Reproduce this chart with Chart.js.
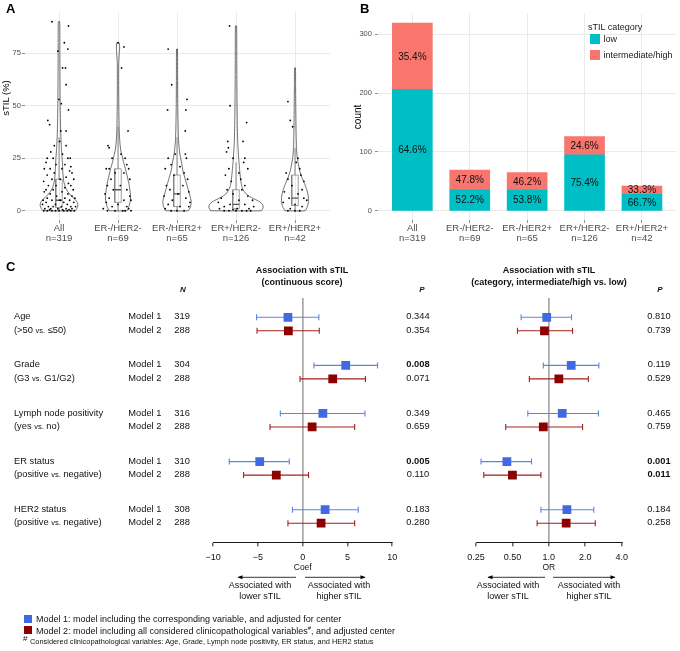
<!DOCTYPE html>
<html>
<head>
<meta charset="utf-8">
<script src="https://cdn.jsdelivr.net/npm/chart.js@4.4.1/dist/chart.umd.min.js"></script>
<style>
  body { margin: 0; background: #fff; font-family: "Liberation Sans", Arial, sans-serif; }
  #page { position: relative; width: 680px; height: 651px; overflow: hidden; }
  canvas { position: absolute; }
  .t { position: absolute; white-space: nowrap; line-height: 1; color: #111; }
  .c { transform: translate(-50%, -50%); }
  .l { transform: translate(0, -50%); }
  .sw { position: absolute; }
</style>
</head>
<body>
<div id="page">
  <canvas id="chartA" width="340" height="250" style="left:0;top:0"></canvas>
  <canvas id="chartB" width="340" height="250" style="left:340px;top:0"></canvas>
  <canvas id="forestCoef" width="205" height="283" style="left:200px;top:290px"></canvas>
  <canvas id="forestOR" width="175" height="283" style="left:460px;top:290px"></canvas>
  <svg width="680" height="651" style="position:absolute;left:0;top:0;pointer-events:none">
    <defs>
      <marker id="ah" viewBox="0 0 10 10" refX="9" refY="5" markerUnits="userSpaceOnUse" markerWidth="6" markerHeight="5" orient="auto">
        <path d="M0,1 L10,5 L0,9z" fill="#000"/>
      </marker>
    </defs>
    <line x1="296" y1="577.3" x2="238" y2="577.3" stroke="#000" stroke-width="0.8" marker-end="url(#ah)"/>
    <line x1="305" y1="577.3" x2="365" y2="577.3" stroke="#000" stroke-width="0.8" marker-end="url(#ah)"/>
    <line x1="545" y1="577.3" x2="488" y2="577.3" stroke="#000" stroke-width="0.8" marker-end="url(#ah)"/>
    <line x1="553" y1="577.3" x2="615" y2="577.3" stroke="#000" stroke-width="0.8" marker-end="url(#ah)"/>
  </svg>
</div>
<script>
// ---- data ----
const groups = ['All', 'ER-/HER2-', 'ER-/HER2+', 'ER+/HER2-', 'ER+/HER2+'];
const groupN = [319, 69, 65, 126, 42];
const lowCounts = [206, 36, 35, 95, 28];
const highCounts = [113, 33, 30, 31, 14];
const stilTicks = [0, 25, 50, 75];
const countTicks = [0, 100, 200, 300];

// violin outlines: [sTIL value, half width in category units]
const violinAll = [[0,0.27],[1,0.3],[2.5,0.32],[4,0.31],[5.5,0.27],[7,0.21],[9,0.15],[11,0.11],[14,0.08],[18,0.065],[24,0.055],[30,0.04],[38,0.028],[50,0.02],[65,0.016],[80,0.014],[90,0.012]];
const violinERnHER2n = [[0,0.15],[2,0.185],[5,0.21],[8,0.21],[12,0.19],[16,0.16],[20,0.125],[23,0.095],[26,0.07],[29,0.045],[33,0.03],[38,0.02],[48,0.014],[60,0.011],[70,0.012],[75,0.022],[77.5,0.028],[80,0.02]];
const violinERnHER2p = [[0,0.19],[2,0.23],[4.5,0.24],[7,0.22],[10,0.19],[13,0.16],[16,0.13],[19,0.1],[22.5,0.08],[26,0.055],[29,0.04],[33,0.027],[38,0.02],[50,0.013],[65,0.01],[77,0.008]];
const violinERpHER2n = [[0,0.43],[1.5,0.46],[3,0.45],[4.5,0.39],[6,0.28],[7.5,0.19],[9.5,0.13],[12,0.095],[15,0.078],[19,0.063],[25,0.045],[32,0.03],[40,0.022],[55,0.016],[70,0.013],[88,0.01]];
const violinERpHER2p = [[0,0.17],[2,0.21],[4.5,0.23],[7,0.225],[10,0.2],[13,0.16],[16,0.115],[19,0.08],[22.5,0.055],[26,0.035],[30,0.025],[38,0.018],[50,0.013],[60,0.01],[68,0.008]];
const violins = [violinAll, violinERnHER2n, violinERnHER2p, violinERpHER2n, violinERpHER2p];

// boxplot: [lower whisker, q1, median, q3, upper whisker]
const boxStats = [[0,1.5,5,15,35],[0,4,10,20,40],[0,2,8,17,35],[0,1,3,10,23],[0,2.5,6,17,30]];

// jittered observations: [offset from group centre, sTIL]
const jitterAll = [[-0.12,90],[0.16,88],[0.09,80],[0.15,77],[-0.02,76],[0.06,68],[0.11,68],[0.12,60],[0.0,53],[0.04,51],[0.16,48],[-0.19,43],[-0.16,41],[0.03,38],[0.12,38],[0.01,33],[-0.08,31],[0.12,31],[-0.14,28],[0.06,27],[-0.2,25],[-0.1,25],[0.15,25],[0.19,25],[-0.22,23],[-0.05,22],[0.1,22],[0.2,21],[-0.15,20],[-0.25,20],[0.05,20],[0.18,19],[-0.08,18],[0.22,18],[-0.2,17],[0.12,16],[-0.12,15],[0.25,15],[0.02,15],[-0.26,14],[0.16,13],[-0.05,12],[0.2,12],[-0.18,12],[0.1,11],[-0.22,10],[0.24,10],[-0.1,10],[0.05,9],[-0.25,9],[0.15,8],[-0.15,8],[0.22,7],[-0.04,7],[-0.2,6],[0.1,6],[0.27,6],[-0.27,5],[0.02,5],[0.18,5],[-0.12,5],[-0.22,4],[0.08,4],[0.25,4],[-0.06,3],[0.14,3],[-0.28,3],[0.2,2],[-0.18,2],[0.04,2],[-0.1,2],[0.28,2],[-0.24,1],[0.12,1],[-0.02,1],[0.22,1],[-0.14,1],[0.06,0.5],[-0.26,0],[-0.2,0],[-0.12,0],[-0.06,0],[0,0],[0.08,0],[0.14,0],[0.2,0],[0.26,0],[-0.16,0.5],[0.17,0.5]];
const jitterERnHER2n = [[0.0,80],[0.1,78],[0.06,68],[0.17,38],[-0.17,31],[-0.15,30],[-0.1,25],[0.05,27],[0.12,25],[0.15,22],[-0.2,20],[-0.15,20],[0.18,20],[-0.05,18],[0.1,18],[-0.12,15],[0.2,15],[-0.18,12],[0.04,12],[0.15,10],[-0.08,10],[-0.22,8],[0.2,7],[-0.15,6],[0.1,5],[0.22,5],[-0.2,4],[0.0,3],[0.15,2],[-0.1,2],[-0.25,1],[0.18,1],[0.08,0],[-0.18,0],[-0.05,0],[0.22,0],[0.12,0]];
const jitterERnHER2p = [[-0.15,77],[-0.09,60],[-0.16,48],[0.17,53],[0.15,48],[0.14,38],[-0.03,27],[-0.15,25],[0.16,25],[0.14,27],[-0.1,22],[0.05,21],[-0.2,20],[0.12,18],[-0.05,17],[0.18,15],[-0.18,12],[0.1,12],[-0.12,10],[0.2,9],[0.02,8],[-0.22,7],[0.15,6],[-0.08,5],[0.22,4],[-0.15,3],[0.05,2],[0.2,2],[-0.2,1],[0.12,0],[-0.1,0],[0.0,0]];
const jitterERpHER2n = [[-0.11,88],[-0.1,50],[0.18,42],[0.12,33],[-0.14,33],[-0.13,30],[-0.16,28],[0.15,25],[-0.05,25],[0.13,23],[-0.12,20],[0.2,20],[0.05,18],[-0.18,17],[0.08,15],[-0.08,14],[0.15,12],[-0.15,10],[0.1,10],[-0.05,8],[0.2,7],[-0.25,6],[0.05,5],[0.28,5],[-0.3,4],[0.15,3],[-0.1,3],[0.3,2],[-0.2,2],[0.02,1],[0.22,1],[-0.28,1],[-0.12,0],[0.1,0],[0.0,0],[0.18,0],[-0.2,0],[0.25,0],[-0.05,0.5]];
const jitterERpHER2p = [[-0.12,52],[-0.08,43],[-0.04,40],[0.05,25],[0.02,23],[0.08,20],[-0.15,18],[0.1,17],[-0.12,15],[0.15,14],[-0.05,12],[0.12,10],[-0.18,9],[0.05,8],[0.15,6],[-0.1,6],[0.2,5],[-0.2,4],[0.0,3],[0.12,2],[-0.08,1],[0.08,0],[0.0,0],[-0.12,0]];
const jitters = [jitterAll, jitterERnHER2n, jitterERnHER2p, jitterERpHER2n, jitterERpHER2p];

// panel C
const variables = ['Age', 'Grade', 'Lymph node positivity', 'ER status', 'HER2 status'];
const contrasts = ['(>50 vs. \u226450)', '(G3 vs. G1/G2)', '(yes vs. no)', '(positive vs. negative)', '(positive vs. negative)'];
const models = ['Model 1', 'Model 2'];
const nModel1 = [319, 304, 316, 310, 308];
const nModel2 = [288, 288, 288, 288, 288];
const coefM1 = [-1.65, 4.8, 2.25, -4.8, 2.5];
const coefM1Lo = [-5.15, 1.25, -2.5, -8.2, -1.15];
const coefM1Hi = [1.8, 8.35, 6.95, -1.5, 6.2];
const coefM2 = [-1.6, 3.35, 1.05, -2.95, 2.05];
const coefM2Lo = [-5.1, -0.3, -3.65, -6.6, -1.65];
const coefM2Hi = [1.85, 7.0, 5.8, 0.65, 5.8];
const pCoefM1 = ['0.344', '0.008', '0.349', '0.005', '0.183'];
const pCoefM2 = ['0.354', '0.071', '0.659', '0.110', '0.280'];
const orM1 = [0.96, 1.53, 1.29, 0.45, 1.41];
const orM1Lo = [0.59, 0.90, 0.67, 0.275, 0.86];
const orM1Hi = [1.54, 2.59, 2.57, 0.72, 2.35];
const orM2 = [0.92, 1.21, 0.90, 0.50, 1.39];
const orM2Lo = [0.55, 0.69, 0.44, 0.29, 0.80];
const orM2Hi = [1.57, 2.12, 1.90, 0.86, 2.42];
const pOrM1 = ['0.810', '0.119', '0.465', '0.001', '0.184'];
const pOrM2 = ['0.739', '0.529', '0.759', '0.011', '0.258'];
const coefTicks = [-10, -5, 0, 5, 10];
const orTicks = [0.25, 0.5, 1, 2, 4];
const orTickLabels = ['0.25', '0.50', '1.0', '2.0', '4.0'];

const TEAL = '#00BFC4', SALMON = '#F8766D';
const BLUE = '#4169E1', DARKRED = '#8B0000';

Chart.defaults.font.family = '"Liberation Sans", Arial, sans-serif';
Chart.defaults.animation = false;

// ---- text helper ----
const page = document.getElementById('page');
function txt(html, x, y, cls, style) {
  const d = document.createElement('div');
  d.className = 't ' + cls;
  d.style.left = x + 'px';
  d.style.top = y + 'px';
  d.style.cssText += style || '';
  d.innerHTML = html;
  page.appendChild(d);
  return d;
}

// ---- panel A: violins ----
const dsA = [];
const boxHalf = 0.055;
violins.forEach((prof, i) => {
  const c = i + 1;
  const right = prof.map(([y, w]) => ({x: c + w, y}));
  const left = prof.slice().reverse().map(([y, w]) => ({x: c - w, y}));
  dsA.push({type: 'line', data: [left[left.length - 1], ...right, ...left], borderColor: '#333', borderWidth: 0.7,
    pointRadius: 0, tension: 0.15, fill: false, order: 4});
  const [lw, q1, md, q3, uw] = boxStats[i];
  dsA.push({type: 'line', data: [{x: c, y: lw}, {x: c, y: q1}, {x: c, y: null}, {x: c, y: q3}, {x: c, y: uw}],
    borderColor: '#555', borderWidth: 0.7, pointRadius: 0, spanGaps: false, fill: false, order: 3});
  dsA.push({type: 'line', data: [{x: c - boxHalf, y: q1}, {x: c + boxHalf, y: q1}, {x: c + boxHalf, y: q3}, {x: c - boxHalf, y: q3}, {x: c - boxHalf, y: q1}],
    borderColor: '#777', borderWidth: 0.7, pointRadius: 0, tension: 0, fill: false, order: 2});
  dsA.push({type: 'line', data: [{x: c - boxHalf, y: md}, {x: c + boxHalf, y: md}],
    borderColor: '#555', borderWidth: 1.3, pointRadius: 0, fill: false, order: 1});
});
dsA.push({type: 'scatter', data: jitters.flatMap((pts, i) => pts.map(([dx, y]) => ({x: i + 1 + dx, y}))),
  pointRadius: 0.9, backgroundColor: '#000', borderWidth: 0, order: 0});

const gridGrey = '#e4e4e4';
const catTickFont = {size: 9.5, lineHeight: 1.05};
new Chart(document.getElementById('chartA'), {
  type: 'scatter',
  data: {datasets: dsA},
  options: {
    responsive: false,
    layout: {padding: {top: 12.3, right: 9.6, left: 0, bottom: 0}},
    plugins: {legend: {display: false}, tooltip: {enabled: false}},
    scales: {
      x: {
        type: 'linear', min: 0.42, max: 5.6,
        afterBuildTicks: s => { s.ticks = groups.map((g, i) => ({value: i + 1})); },
        afterFit: s => { s.height = 29.8; },
        grid: {color: gridGrey, lineWidth: 0.8, tickLength: 3, tickColor: '#666', tickWidth: 0.7},
        border: {display: false},
        ticks: {color: '#4d4d4d', font: catTickFont, padding: 0.5, autoSkip: false, maxRotation: 0,
          callback: (v, idx) => [groups[idx], 'n=' + groupN[idx]]}
      },
      y: {
        min: -4.5, max: 94.5,
        afterBuildTicks: s => { s.ticks = stilTicks.map(v => ({value: v})); },
        afterFit: s => { s.width = 24.8; },
        grid: {color: gridGrey, lineWidth: 0.8, tickLength: 3, tickColor: '#666', tickWidth: 0.7},
        border: {display: false},
        ticks: {color: '#4d4d4d', font: {size: 7.5}, padding: 1}
      }
    }
  }
});

// ---- panel B: stacked bars ----
const barLabels = {
  id: 'barLabels',
  afterDatasetsDraw(chart) {
    const {ctx} = chart;
    ctx.save();
    ctx.font = '10px "Liberation Sans", Arial, sans-serif';
    ctx.fillStyle = '#111';
    ctx.textAlign = 'center';
    ctx.textBaseline = 'middle';
    chart.data.datasets.forEach((ds, di) => {
      chart.getDatasetMeta(di).data.forEach((bar, i) => {
        const pct = (ds.data[i].y / groupN[i] * 100).toFixed(1) + '%';
        ctx.fillText(pct, bar.x, (bar.y + bar.base) / 2 + 0.5);
      });
    });
    ctx.restore();
  }
};
new Chart(document.getElementById('chartB'), {
  type: 'bar',
  data: {datasets: [
    {label: 'low', data: lowCounts.map((v, i) => ({x: i + 1, y: v})), backgroundColor: TEAL, barThickness: 40},
    {label: 'intermediate/high', data: highCounts.map((v, i) => ({x: i + 1, y: v})), backgroundColor: SALMON, barThickness: 40}
  ]},
  options: {
    responsive: false,
    layout: {padding: {top: 13.7, right: 3.6, left: 0, bottom: 0}},
    plugins: {legend: {display: false}, tooltip: {enabled: false}},
    scales: {
      x: {
        type: 'linear', min: 0.4, max: 5.6, stacked: true, offset: false,
        afterBuildTicks: s => { s.ticks = groups.map((g, i) => ({value: i + 1})); },
        afterFit: s => { s.height = 29.9; },
        grid: {offset: false, color: gridGrey, lineWidth: 0.8, tickLength: 3, tickColor: '#666', tickWidth: 0.7},
        border: {display: false},
        ticks: {color: '#4d4d4d', font: catTickFont, padding: 0.5, autoSkip: false, maxRotation: 0,
          callback: (v, idx) => [groups[idx], 'n=' + groupN[idx]]}
      },
      y: {
        min: -15.95, max: 334.95, stacked: true,
        afterBuildTicks: s => { s.ticks = countTicks.map(v => ({value: v})); },
        afterFit: s => { s.width = 37.9; },
        grid: {color: gridGrey, lineWidth: 0.8, tickLength: 3, tickColor: '#666', tickWidth: 0.7},
        border: {display: false},
        ticks: {color: '#4d4d4d', font: {size: 7.5}, padding: 3},
        title: {display: true, text: 'count', color: '#000', font: {size: 10}, padding: {top: 12.5, bottom: 0}}
      }
    }
  },
  plugins: [barLabels]
});

// ---- panel C: forest plots ----
const rowGap = 13.5 / 48.1;
const errorBars = {
  id: 'errorBars',
  beforeDatasetsDraw(chart) {
    const {ctx, scales: {x, y}} = chart;
    chart.data.datasets.forEach(ds => {
      ctx.save();
      ctx.strokeStyle = ds.barColor;
      ctx.lineWidth = 1.1;
      ds.data.forEach((p, k) => {
        const py = y.getPixelForValue(p.y);
        const x0 = x.getPixelForValue(ds.lo[k]);
        const x1 = x.getPixelForValue(ds.hi[k]);
        ctx.beginPath();
        ctx.moveTo(x0, py); ctx.lineTo(x1, py);
        ctx.moveTo(x0, py - 3); ctx.lineTo(x0, py + 3);
        ctx.moveTo(x1, py - 3); ctx.lineTo(x1, py + 3);
        ctx.stroke();
      });
      ctx.restore();
    });
  }
};

function forest(id, est1, lo1, hi1, est2, lo2, hi2, xScale, padL, padR) {
  new Chart(document.getElementById(id), {
    type: 'scatter',
    data: {datasets: [
      {label: models[0], data: est1.map((v, g) => ({x: v, y: g})), lo: lo1, hi: hi1, barColor: '#5f82e6',
        pointStyle: 'rect', pointRadius: 6.2, backgroundColor: BLUE, borderWidth: 0},
      {label: models[1], data: est2.map((v, g) => ({x: v, y: g + rowGap})), lo: lo2, hi: hi2, barColor: '#a32020',
        pointStyle: 'rect', pointRadius: 6.2, backgroundColor: DARKRED, borderWidth: 0}
    ]},
    options: {
      responsive: false,
      layout: {padding: {top: 8, right: padR, left: padL, bottom: 0}},
      plugins: {legend: {display: false}, tooltip: {enabled: false}},
      scales: {
        x: Object.assign({
          afterFit: s => { s.height = 30.7; },
          grid: {color: c => (c.tick && c.tick.value === (xScale.type === 'logarithmic' ? 1 : 0)) ? '#a8a8a8' : 'rgba(0,0,0,0)',
            lineWidth: 1.7, tickLength: 4, tickColor: '#000', tickWidth: 0.9},
          border: {display: true, color: '#000', width: 0.9},
          ticks: Object.assign({color: '#111', font: {size: 9}, padding: 5.5, autoSkip: false, maxRotation: 0}, xScale.ticks),
          title: {display: true, text: xScale.title, color: '#111', font: {size: 8.5}, padding: {top: 0, bottom: 0}}
        }, xScale.range),
        y: {display: false, reverse: true, min: -0.401, max: 4.678}
      }
    },
    plugins: [errorBars]
  });
}

forest('forestCoef', coefM1, coefM1Lo, coefM1Hi, coefM2, coefM2Lo, coefM2Hi, {
  type: 'linear', title: 'Coef',
  range: {type: 'linear', min: -10, max: 10, afterBuildTicks: s => { s.ticks = coefTicks.map(v => ({value: v})); }},
  ticks: {callback: v => v < 0 ? '\u2212' + (-v) : String(v)}
}, 11.7, 12.7);

forest('forestOR', orM1, orM1Lo, orM1Hi, orM2, orM2Lo, orM2Hi, {
  type: 'logarithmic', title: 'OR',
  range: {type: 'logarithmic', min: 0.25, max: 4, afterBuildTicks: s => { s.ticks = orTicks.map(v => ({value: v})); }},
  ticks: {callback: (v, idx) => orTickLabels[idx]}
}, 16, 13.3);

// ---- static text ----
txt('A', 6, 7.5, 'l', 'font-weight:bold;font-size:13px;color:#000');
txt('B', 360, 7.5, 'l', 'font-weight:bold;font-size:13px;color:#000');
txt('C', 6, 266, 'l', 'font-weight:bold;font-size:13px;color:#000');
txt('sTIL (%)', 6, 97.5, '', 'font-size:9.5px;color:#000;transform:translate(-50%,-50%) rotate(-90deg)');

// legend B
txt('sTIL category', 588, 27, 'l', 'font-size:9px;color:#1a1a1a');
[['low', TEAL, 39.3], ['intermediate/high', SALMON, 54.5]].forEach(([lab, col, y]) => {
  const s = document.createElement('div');
  s.className = 'sw';
  s.style.cssText = `left:590px;top:${y - 5}px;width:10px;height:10px;background:${col}`;
  page.appendChild(s);
  txt(lab, 603.5, y, 'l', 'font-size:9px;color:#1a1a1a');
});

// headers
const hb = 'font-weight:bold;font-size:9px;color:#111';
txt('Association with sTIL', 302, 269.5, 'c', hb);
txt('(continuous score)', 302, 282, 'c', hb);
txt('Association with sTIL', 549, 269.5, 'c', hb);
txt('(category, intermediate/high vs. low)', 549, 282, 'c', hb);
const hi = 'font-weight:bold;font-style:italic;font-size:8px;color:#111';
txt('N', 183, 289.5, 'c', hi);
txt('P', 422, 289.5, 'c', hi);
txt('P', 660, 289.5, 'c', hi);

// rows
const fs = 'font-size:9.3px';
variables.forEach((v, g) => {
  const y1 = 317.3 + g * 48.1, y2 = y1 + 13.5;
  txt(v, 14, y1, 'l', fs);
  txt(contrasts[g].replace('vs.', '<span style="font-size:7.5px">vs.</span>'), 14, y2, 'l', fs);
  txt(models[0], 128.3, y1, 'l', fs);
  txt(models[1], 128.3, y2, 'l', fs);
  txt(nModel1[g], 174.3, y1, 'l', fs);
  txt(nModel2[g], 174.3, y2, 'l', fs);
  [[pCoefM1[g], 418, y1], [pCoefM2[g], 418, y2], [pOrM1[g], 659, y1], [pOrM2[g], 659, y2]].forEach(([p, x, y]) => {
    txt(p, x, y, 'c', fs + (parseFloat(p) < 0.05 ? ';font-weight:bold' : ''));
  });
});

// direction labels
const dl = 'font-size:9px;text-align:center;line-height:11px';
[[260, 'lower'], [339, 'higher'], [508, 'lower'], [589, 'higher']].forEach(([x, w]) => {
  txt('Associated with<br>' + w + ' sTIL', x, 591.2, 'c', dl);
});

// legend C
[[BLUE, 619, 'Model 1: model including the corresponding variable, and adjusted for center'],
 [DARKRED, 629.5, 'Model 2: model including all considered clinicopathological variables<sup style="font-size:6px">#</sup>, and adjusted center']]
.forEach(([col, y, lab]) => {
  const s = document.createElement('div');
  s.className = 'sw';
  s.style.cssText = `left:23.5px;top:${y - 4}px;width:8px;height:8px;background:${col}`;
  page.appendChild(s);
  txt(lab, 36, y, 'l', 'font-size:9px');
});
txt('#', 23, 638.5, 'l', 'font-size:8px');
txt('Considered clinicopathological variables: Age, Grade, Lymph node positivity, ER status, and HER2 status', 30, 641.5, 'l', 'font-size:7.4px');
</script>
</body>
</html>
